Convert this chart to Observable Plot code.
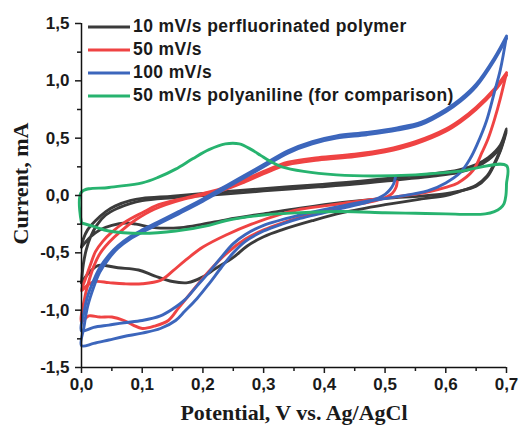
<!DOCTYPE html>
<html>
<head>
<meta charset="utf-8">
<script src="https://cdn.jsdelivr.net/npm/d3@7"></script>
<script src="https://cdn.jsdelivr.net/npm/@observablehq/plot@0.6"></script>
<style>
  body { margin: 0; background: white; }
  #wrap { position: relative; width: 520px; height: 429px; }
  #legend { position: absolute; left: 88px; top: 15px; font-family: 'Liberation Sans', Arial, sans-serif; font-weight: bold; font-size: 17.5px; color: #1a1a1a; }
  .row { display: flex; align-items: center; height: 23px; white-space: nowrap; letter-spacing: 0.4px; }
  .row svg { margin-right: 3px; }
</style>
</head>
<body>
<div id="wrap">
  <div id="chart"></div>
  <div id="legend"></div>
</div>
<script>
// ---- data (Potential V, Current mA) ----
const seriesNames = ["10 mV/s perfluorinated polymer", "50 mV/s", "100 mV/s", "50 mV/s polyaniline (for comparison)"];
const seriesColors = ["#3b3b3b", "#ef4343", "#3c66bc", "#27b36f"];

const blackCycle1 = [[0,-0.45],[0.003,-0.38],[0.01,-0.3],[0.023,-0.22],[0.04,-0.14],[0.056,-0.09],[0.08,-0.045],[0.1,-0.025],[0.15,-0.005],[0.23,0.03],[0.3,0.06],[0.39,0.095],[0.45,0.12],[0.525,0.16],[0.58,0.19],[0.62,0.22],[0.65,0.27],[0.67,0.33],[0.69,0.44],[0.7,0.58],
  [0.695,0.48],[0.69,0.4],[0.68,0.28],[0.668,0.17],[0.65,0.09],[0.62,0.03],[0.6,0.0],[0.56,-0.03],[0.5,-0.08],[0.43,-0.15],[0.38,-0.22],[0.33,-0.3],[0.3,-0.36],[0.273,-0.44],[0.25,-0.54],[0.22,-0.64],[0.2,-0.71],[0.175,-0.76],[0.15,-0.75],[0.12,-0.7],[0.094,-0.65],[0.06,-0.63],[0.028,-0.61],[0.015,-0.66],[0.005,-0.72],[0,-0.76]];
const blackCycle2 = [[0,-0.76],[0.003,-0.6],[0.008,-0.47],[0.015,-0.36],[0.025,-0.26],[0.04,-0.17],[0.06,-0.11],[0.08,-0.07],[0.1,-0.045],[0.15,-0.02],[0.23,0.01],[0.3,0.04],[0.39,0.075],[0.45,0.1],[0.525,0.14],[0.58,0.17],[0.62,0.2],[0.65,0.25],[0.67,0.31],[0.69,0.42],[0.7,0.56],
  [0.695,0.47],[0.69,0.39],[0.68,0.27],[0.668,0.16],[0.65,0.08],[0.62,0.035],[0.6,0.015],[0.56,-0.005],[0.5,-0.025],[0.43,-0.06],[0.36,-0.11],[0.3,-0.16],[0.24,-0.21],[0.2,-0.25],[0.163,-0.28],[0.12,-0.28],[0.09,-0.25],[0.072,-0.24],[0.05,-0.26],[0.03,-0.3],[0.015,-0.36],[0,-0.45]];

const redCycle1 = [[0.52,0.12],[0.518,0.07],[0.512,0.02],[0.5,-0.02],[0.48,-0.05],[0.43,-0.1],[0.4,-0.14],[0.36,-0.19],[0.33,-0.24],[0.3,-0.3],[0.27,-0.38],[0.24,-0.5],[0.21,-0.66],[0.18,-0.85],[0.16,-0.98],[0.143,-1.09],[0.12,-1.14],[0.1,-1.16],[0.085,-1.13],[0.07,-1.09],[0.05,-1.06],[0.03,-1.06],[0.012,-1.05],[0,-1.1],
  [0.005,-0.9],[0.012,-0.75],[0.02,-0.62],[0.03,-0.51],[0.045,-0.41],[0.065,-0.31],[0.09,-0.21],[0.12,-0.12],[0.17,-0.03],[0.23,0.04],[0.27,0.12],[0.3,0.19],[0.34,0.27],[0.39,0.31],[0.45,0.34],[0.5,0.38],[0.55,0.45],[0.6,0.56],[0.624,0.64],[0.65,0.75],[0.68,0.91],[0.7,1.05]];
const redCycle2 = [[0.7,1.07],[0.69,0.85],[0.68,0.66],[0.67,0.5],[0.66,0.38],[0.645,0.22],[0.62,0.11],[0.6,0.07],[0.57,0.03],[0.52,-0.01],[0.47,-0.04],[0.43,-0.07],[0.36,-0.12],[0.33,-0.16],[0.28,-0.25],[0.24,-0.34],[0.2,-0.45],[0.17,-0.57],[0.15,-0.66],[0.13,-0.74],[0.1,-0.77],[0.07,-0.77],[0.045,-0.76],[0.023,-0.75],[0.01,-0.78],[0,-0.83],
  [0.007,-0.72],[0.015,-0.6],[0.023,-0.49],[0.035,-0.4],[0.05,-0.32],[0.072,-0.23],[0.1,-0.15],[0.127,-0.08],[0.18,-0.01],[0.23,0.06],[0.27,0.14],[0.3,0.21],[0.34,0.29],[0.39,0.33],[0.45,0.36],[0.5,0.4],[0.55,0.47],[0.6,0.58],[0.624,0.66],[0.65,0.77],[0.68,0.93],[0.7,1.07]];

const blueCycle1 = [[0.517,0.16],[0.514,0.1],[0.508,0.05],[0.5,0.01],[0.49,-0.02],[0.47,-0.06],[0.43,-0.11],[0.4,-0.15],[0.36,-0.2],[0.33,-0.25],[0.3,-0.31],[0.27,-0.4],[0.25,-0.5],[0.23,-0.63],[0.21,-0.77],[0.19,-0.9],[0.17,-1.01],[0.155,-1.09],[0.13,-1.16],[0.1,-1.2],[0.07,-1.23],[0.045,-1.26],[0.02,-1.29],[0,-1.31],
  [0.004,-1.15],[0.01,-0.97],[0.02,-0.8],[0.03,-0.67],[0.045,-0.55],[0.06,-0.46],[0.08,-0.38],[0.1,-0.32],[0.13,-0.24],[0.16,-0.16],[0.2,-0.05],[0.23,0.04],[0.26,0.13],[0.3,0.25],[0.34,0.37],[0.38,0.45],[0.42,0.5],[0.47,0.53],[0.52,0.57],[0.56,0.62],[0.6,0.73],[0.624,0.82],[0.65,0.95],[0.68,1.18],[0.7,1.37]];
const blueCycle2 = [[0.7,1.39],[0.69,1.1],[0.68,0.9],[0.667,0.65],[0.652,0.45],[0.64,0.32],[0.624,0.2],[0.6,0.11],[0.57,0.04],[0.52,-0.01],[0.47,-0.05],[0.43,-0.09],[0.36,-0.17],[0.3,-0.26],[0.27,-0.34],[0.25,-0.42],[0.23,-0.54],[0.21,-0.67],[0.19,-0.79],[0.17,-0.91],[0.15,-0.99],[0.13,-1.05],[0.1,-1.09],[0.07,-1.11],[0.045,-1.13],[0.02,-1.15],[0,-1.18],
  [0.004,-1.02],[0.01,-0.88],[0.02,-0.74],[0.03,-0.63],[0.045,-0.52],[0.06,-0.44],[0.08,-0.36],[0.1,-0.3],[0.13,-0.22],[0.16,-0.14],[0.2,-0.03],[0.23,0.06],[0.26,0.15],[0.3,0.27],[0.34,0.39],[0.38,0.47],[0.42,0.52],[0.47,0.55],[0.52,0.59],[0.56,0.64],[0.6,0.75],[0.624,0.84],[0.65,0.97],[0.68,1.2],[0.7,1.39]];

const greenCycle = [[0,-0.24],[0,0.03],[0.045,0.07],[0.1,0.11],[0.127,0.16],[0.155,0.23],[0.183,0.32],[0.21,0.4],[0.237,0.45],[0.26,0.45],[0.28,0.4],[0.295,0.35],[0.31,0.3],[0.33,0.25],[0.366,0.21],[0.42,0.18],[0.48,0.17],[0.55,0.18],[0.62,0.21],[0.7,0.26],
  [0.7,0.1],[0.699,0.0],[0.696,-0.07],[0.69,-0.11],[0.68,-0.14],[0.665,-0.16],[0.64,-0.165],[0.6,-0.16],[0.55,-0.155],[0.5,-0.15],[0.43,-0.14],[0.36,-0.15],[0.3,-0.17],[0.237,-0.22],[0.21,-0.26],[0.155,-0.31],[0.1,-0.33],[0.045,-0.31],[0.02,-0.27],[0,-0.24]];

const xTicks = [0, 0.1, 0.2, 0.3, 0.4, 0.5, 0.6, 0.7];
const xMinor = [0.05, 0.15, 0.25, 0.35, 0.45, 0.55, 0.65];
const yTicks = [-1.5, -1.0, -0.5, 0, 0.5, 1.0, 1.5];
const yMinor = [-1.25, -0.75, -0.25, 0.25, 0.75, 1.25];
const xDomain = [0, 0.7];
const yDomain = [-1.5, 1.5];
const xTitle = "Potential, V vs. Ag/AgCl";
const yTitle = "Current, mA";

// ---- build table ----
const cycles = [
  [seriesNames[0], "b1", blackCycle1], [seriesNames[0], "b2", blackCycle2],
  [seriesNames[1], "r1", redCycle1], [seriesNames[1], "r2", redCycle2],
  [seriesNames[2], "u1", blueCycle1], [seriesNames[2], "u2", blueCycle2],
  [seriesNames[3], "g1", greenCycle]
];
const rows = cycles.flatMap(([s, id, pts]) => pts.map(([v, i]) => ({series: s, cycle: id, V: v, I: i})));
const fmt = v => v.toFixed(1).replace(".", ",");

const chart = Plot.plot({
  width: 520, height: 429,
  marginLeft: 81, marginRight: 14, marginTop: 23, marginBottom: 62,
  style: {fontFamily: "'Liberation Sans', Arial, sans-serif", fontWeight: "bold", fontSize: "17px", color: "#1a1a1a", background: "white"},
  x: {domain: xDomain, label: null},
  y: {domain: yDomain, label: null},
  color: {domain: seriesNames, range: seriesColors},
  marks: [
    Plot.line(rows, {x: "V", y: "I", z: "cycle", stroke: "series", strokeWidth: 2.9, curve: "catmull-rom"}),
    Plot.ruleX([xDomain[0]], {stroke: "#111", strokeWidth: 1.5}),
    Plot.ruleY([yDomain[0]], {stroke: "#111", strokeWidth: 1.5}),
    Plot.axisX(xMinor, {tickSize: 4, tickFormat: () => "", strokeWidth: 1.5, label: null}),
    Plot.axisY(yMinor, {tickSize: 4, tickFormat: () => "", strokeWidth: 1.5, label: null}),
    Plot.axisX(xTicks, {tickSize: 6, tickPadding: 4, tickFormat: fmt, strokeWidth: 1.5, fontSize: 17, label: null}),
    Plot.axisY(yTicks, {tickSize: 6, tickPadding: 6, tickFormat: fmt, strokeWidth: 1.5, fontSize: 17, label: null}),
    Plot.text([xTitle], {text: d => d, frameAnchor: "bottom", lineAnchor: "middle", dy: 45, fontFamily: "'Liberation Serif', 'Times New Roman', serif", fontWeight: "bold", fontSize: 22}),
    Plot.text([yTitle], {text: d => d, frameAnchor: "left", lineAnchor: "middle", textAnchor: "middle", rotate: -90, dx: -61, dy: -12, fontFamily: "'Liberation Serif', 'Times New Roman', serif", fontWeight: "bold", fontSize: 22})
  ]
});
document.getElementById("chart").appendChild(chart);

// ---- legend ----
const legend = document.getElementById("legend");
seriesNames.forEach((name, k) => {
  const row = document.createElement("div");
  row.className = "row";
  row.innerHTML = `<svg width="42" height="6"><line x1="0" y1="3" x2="42" y2="3" stroke="${seriesColors[k]}" stroke-width="3"/></svg><span></span>`;
  row.querySelector("span").textContent = name;
  legend.appendChild(row);
});
</script>
</body>
</html>
